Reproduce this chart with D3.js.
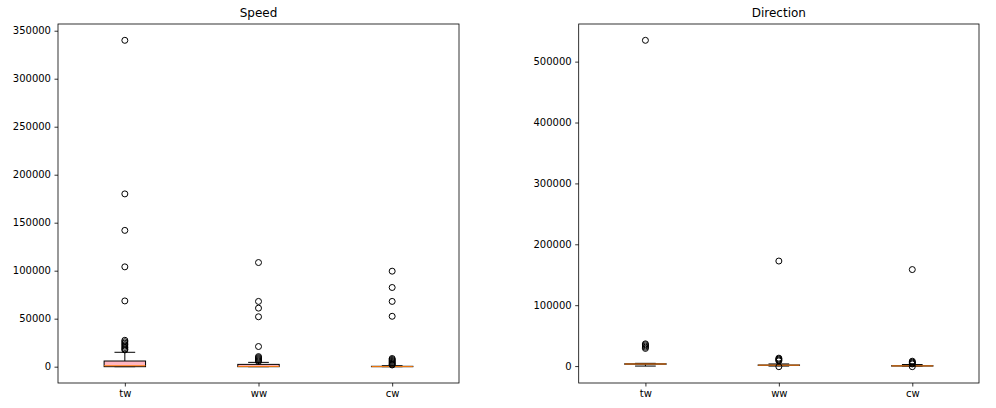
<!DOCTYPE html>
<html>
<head>
<meta charset="utf-8">
<script src="https://cdn.jsdelivr.net/npm/d3@7"></script>
<style>
  html, body { margin: 0; padding: 0; background: #fff; }
  svg { display: block; font-family: "DejaVu Sans", sans-serif; }
</style>
</head>
<body>
<svg id="chart" width="996" height="408"></svg>
<script>
// ---- data ----
const categories = ["tw", "ww", "cw"];

// Speed: box statistics [whiskerLow, q1, median, q3, whiskerHigh]
const speedStats = [
  [0, 0, 1000, 5900, 15000],
  [0, 0, 300, 2400, 4500],
  [0, 0, 100, 400, 1000]
];
const speedOutliersTw = [340000, 180000, 142000, 104000, 68500, 27500, 26000, 24500, 23000, 21500, 20000, 18500, 17500];
const speedOutliersWw = [108500, 68000, 61000, 52000, 21000, 10500, 9500, 8500, 7500, 6500, 5500];
const speedOutliersCw = [99500, 82500, 68000, 52500, 8500, 7500, 6500, 5500, 4500, 3500, 2500, 1800];
const speedTicks = [0, 50000, 100000, 150000, 200000, 250000, 300000, 350000];

// Direction: box statistics [whiskerLow, q1, median, q3, whiskerHigh]
const directionStats = [
  [0, 3000, 3400, 3800, 4500],
  [0, 1200, 1500, 1800, 3500],
  [0, 0, 300, 600, 2500]
];
const directionOutliersTw = [535000, 36500, 35000, 33000, 31000, 29000];
const directionOutliersWw = [172500, 13000, 11500, 10000, 8500, -1000];
const directionOutliersCw = [158500, 8000, 6500, 5000, 3500, -1000];
const directionTicks = [0, 100000, 200000, 300000, 400000, 500000];

const titles = ["Speed", "Direction"];

// ---- drawing ----
const svg = d3.select("#chart");
const panels = [
  { title: titles[0], stats: speedStats, outliers: [speedOutliersTw, speedOutliersWw, speedOutliersCw], ticks: speedTicks, x0: 58, x1: 459 },
  { title: titles[1], stats: directionStats, outliers: [directionOutliersTw, directionOutliersWw, directionOutliersCw], ticks: directionTicks, x0: 578.7, x1: 979 }
];
const plotTop = 24, plotBottom = 383;

panels.forEach(p => {
  const g = svg.append("g");
  const allVals = [];
  p.stats.forEach(s => allVals.push(...s));
  p.outliers.forEach(o => allVals.push(...o));
  const mn = d3.min(allVals), mx = d3.max(allVals);
  const pad = (mx - mn) * 0.05;
  const y = d3.scaleLinear().domain([mn - pad, mx + pad]).range([plotBottom, plotTop]);
  const x = d3.scalePoint().domain(categories).range([p.x0, p.x1]).padding(0.5);
  const step = x.step();
  const bw = step * 0.31;
  const cw = bw / 2;

  categories.forEach((c, i) => {
    const s = p.stats[i];
    const cx = x(c);
    const bg = g.append("g");
    bg.append("line").attr("x1", cx).attr("x2", cx).attr("y1", y(s[0])).attr("y2", y(s[1]))
      .attr("stroke", "#000").attr("stroke-width", 1);
    bg.append("line").attr("x1", cx).attr("x2", cx).attr("y1", y(s[3])).attr("y2", y(s[4]))
      .attr("stroke", "#000").attr("stroke-width", 1);
    [s[0], s[4]].forEach(v => {
      bg.append("line").attr("x1", cx - cw / 2).attr("x2", cx + cw / 2).attr("y1", y(v)).attr("y2", y(v))
        .attr("stroke", "#000").attr("stroke-width", 1);
    });
    bg.append("rect").attr("x", cx - bw / 2).attr("width", bw)
      .attr("y", y(s[3])).attr("height", Math.max(0, y(s[1]) - y(s[3])))
      .attr("fill", "#ffb6c1").attr("stroke", "#000").attr("stroke-width", 1);
    bg.append("line").attr("x1", cx - bw / 2).attr("x2", cx + bw / 2).attr("y1", y(s[2])).attr("y2", y(s[2]))
      .attr("stroke", "#ff7f0e").attr("stroke-width", 1);
    bg.selectAll("circle.fl").data(p.outliers[i]).enter().append("circle")
      .attr("class", "fl").attr("cx", cx).attr("cy", d => y(d)).attr("r", 3)
      .attr("fill", "none").attr("stroke", "#000").attr("stroke-width", 1);
  });

  g.append("rect").attr("x", p.x0).attr("y", plotTop).attr("width", p.x1 - p.x0).attr("height", plotBottom - plotTop)
    .attr("fill", "none").attr("stroke", "#000").attr("stroke-width", 0.8);

  const ya = g.append("g").attr("transform", `translate(${p.x0},0)`)
    .call(d3.axisLeft(y).tickValues(p.ticks).tickFormat(d3.format("d")).tickSize(3.5).tickPadding(3.5).tickSizeOuter(0));
  ya.select(".domain").remove();
  ya.selectAll("text").attr("font-size", "10px").attr("fill", "#000").attr("font-family", "DejaVu Sans");
  ya.selectAll("line").attr("stroke", "#000").attr("stroke-width", 0.8);

  const xa = g.append("g").attr("transform", `translate(0,${plotBottom})`)
    .call(d3.axisBottom(x).tickSize(3.5).tickPadding(3.5).tickSizeOuter(0));
  xa.select(".domain").remove();
  xa.selectAll("text").attr("font-size", "10px").attr("fill", "#000").attr("font-family", "DejaVu Sans");
  xa.selectAll("line").attr("stroke", "#000").attr("stroke-width", 0.8);

  g.append("text").attr("x", (p.x0 + p.x1) / 2).attr("y", 17).attr("text-anchor", "middle")
    .attr("font-size", "12px").attr("fill", "#000").text(p.title);
});
</script>
</body>
</html>
